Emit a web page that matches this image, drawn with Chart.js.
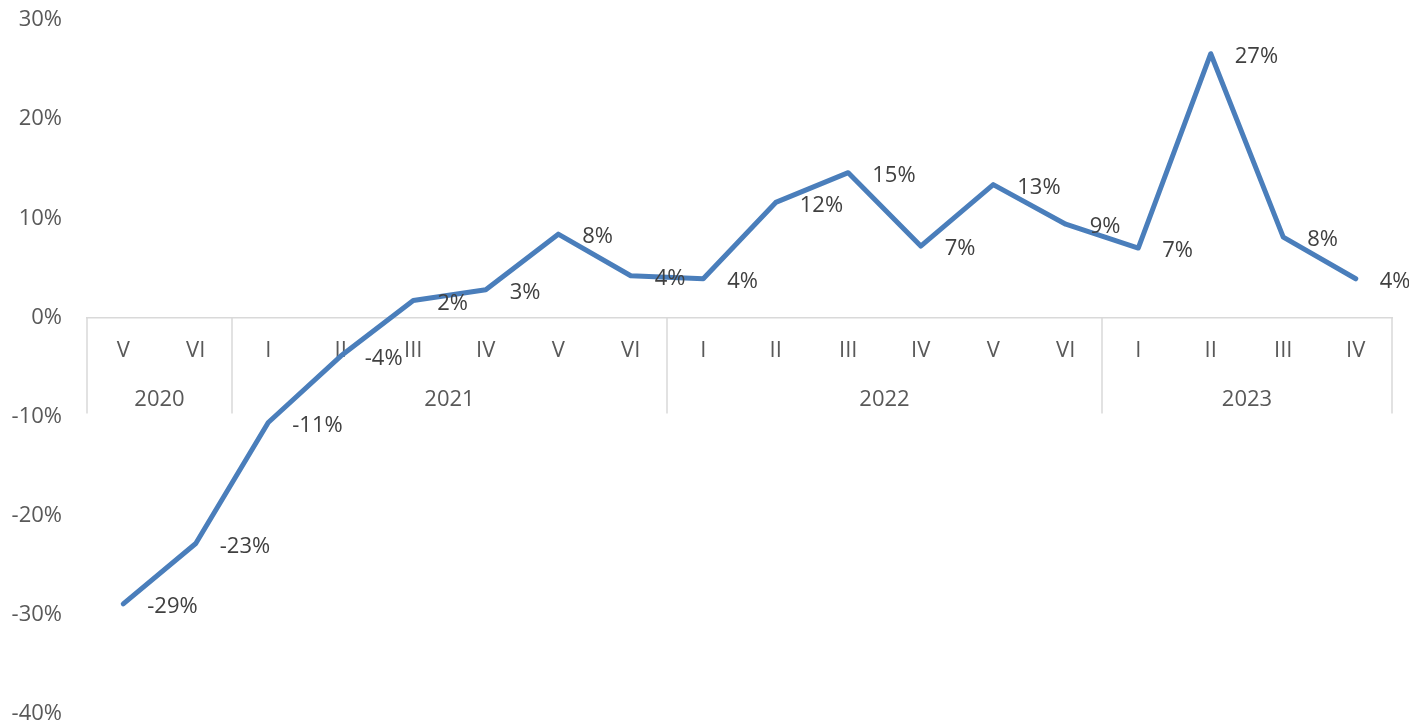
<!DOCTYPE html>
<html>
<head>
<meta charset="utf-8">
<script src="https://cdn.jsdelivr.net/npm/chart.js@4"></script>
<style>
  html, body { margin: 0; padding: 0; background: #fff; }
  #wrap { width: 1409px; height: 721px; }
</style>
</head>
<body>
<div id="wrap"><canvas id="growthChart" width="1409" height="721"></canvas></div>
<script>
const months = ["V", "VI", "I", "II", "III", "IV", "V", "VI", "I", "II", "III", "IV", "V", "VI", "I", "II", "III", "IV"];
const years = ["2020", "2021", "2022", "2023"];
const yearSpans = [2, 6, 6, 4];
const growth = [-0.289, -0.228, -0.106, -0.039, 0.017, 0.028, 0.084, 0.042, 0.039, 0.116, 0.146, 0.072, 0.134, 0.094, 0.070, 0.266, 0.081, 0.039];

const FONT = "'Open Sans', 'Noto Sans', sans-serif";
const axisGrey = "#d9d9d9";

/*YEAR GROUPS + SEPARATORS*/
const yearGroups = {
    id: "yearGroups",
    afterDraw(chart) {
        const x = chart.scales.x, y = chart.scales.y, ctx = chart.ctx;
        const axisY = y.getPixelForValue(0);
        const step = x.getPixelForValue(1) - x.getPixelForValue(0);
        ctx.save();
        ctx.strokeStyle = axisGrey;
        ctx.lineWidth = 1.5;
        ctx.fillStyle = "#595959";
        ctx.font = "22px " + FONT;
        ctx.textAlign = "center";
        ctx.textBaseline = "middle";
        let start = 0;
        const edges = [x.getPixelForValue(0) - step / 2];
        yearSpans.forEach((n, i) => {
            const left = x.getPixelForValue(start) - step / 2;
            const right = x.getPixelForValue(start + n - 1) + step / 2;
            edges.push(right);
            ctx.fillText(years[i], (left + right) / 2, axisY + 82);
            start += n;
        });
        edges.forEach(px => {
            ctx.beginPath();
            ctx.moveTo(px, axisY);
            ctx.lineTo(px, axisY + 96);
            ctx.stroke();
        });
        ctx.restore();
    }
};

/*DATA LABELS*/
const valueLabels = {
    id: "valueLabels",
    afterDatasetsDraw(chart) {
        const ctx = chart.ctx;
        const meta = chart.getDatasetMeta(0);
        ctx.save();
        ctx.fillStyle = "#404040";
        ctx.font = "22px " + FONT;
        ctx.textAlign = "left";
        ctx.textBaseline = "middle";
        meta.data.forEach((pt, i) => {
            ctx.fillText(Math.round(growth[i] * 100) + "%", pt.x + 24, pt.y + 3);
        });
        ctx.restore();
    }
};

new Chart(document.getElementById("growthChart"), {
    type: "line",
    data: {
        labels: months,
        datasets: [{
            data: growth,
            borderColor: "#4A7EBB",
            borderWidth: 5,
            borderJoinStyle: "round",
            borderCapStyle: "round",
            pointRadius: 0,
            tension: 0,
            clip: false
        }]
    },
    options: {
        responsive: false,
        animation: false,
        layout: { padding: { left: 0, right: 17, top: 20, bottom: 7 } },
        plugins: { legend: { display: false }, tooltip: { enabled: false } },
        scales: {
            x: {
                type: "category",
                position: { y: 0 },
                offset: true,
                grid: { display: false, drawTicks: false },
                border: { display: true, color: axisGrey, width: 1.5 },
                ticks: {
                    autoSkip: false,
                    maxRotation: 0,
                    padding: 20,
                    color: "#595959",
                    font: { family: FONT, size: 22 }
                }
            },
            y: {
                min: -0.4,
                max: 0.3,
                grid: { display: false, drawTicks: false },
                border: { display: false },
                ticks: {
                    stepSize: 0.1,
                    padding: 25,
                    color: "#595959",
                    font: { family: FONT, size: 22 },
                    callback: v => Math.round(v * 100) + "%"
                },
                afterFit(scale) {
                    scale.width = 87;
                    scale.paddingTop = 0;
                    scale.paddingBottom = 0;
                }
            }
        }
    },
    plugins: [yearGroups, valueLabels]
});
</script>
</body>
</html>
